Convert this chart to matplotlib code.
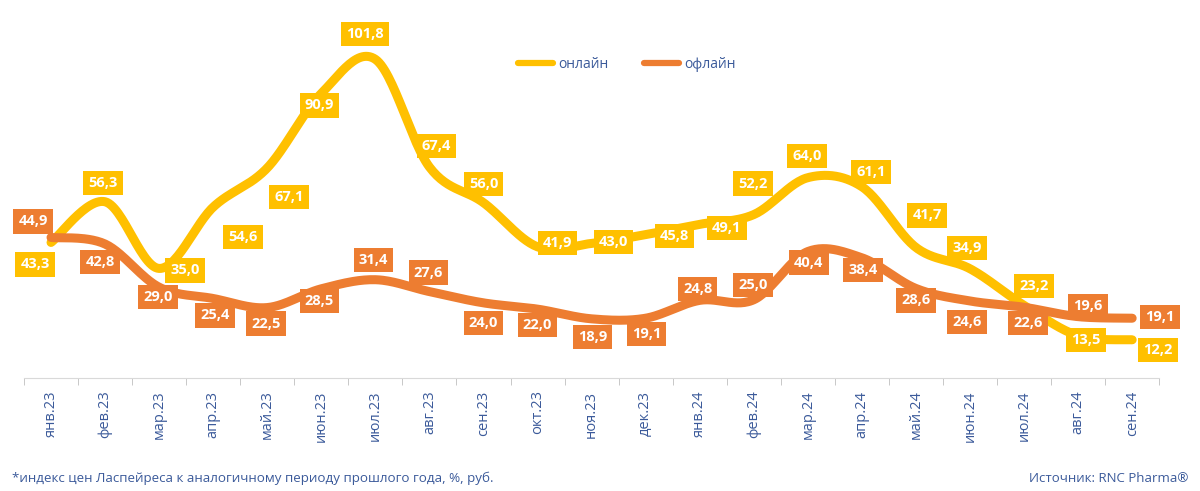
import numpy as np
import matplotlib
matplotlib.use("Agg")
import matplotlib.pyplot as plt
from matplotlib.lines import Line2D

plt.rcParams['font.family'] = ['Open Sans', 'DejaVu Sans']

months = ['янв.23', 'фев.23', 'мар.23', 'апр.23', 'май.23', 'июн.23', 'июл.23',
          'авг.23', 'сен.23', 'окт.23', 'ноя.23', 'дек.23', 'янв.24', 'фев.24',
          'мар.24', 'апр.24', 'май.24', 'июн.24', 'июл.24', 'авг.24', 'сен.24']
online = [43.3, 56.3, 35.0, 54.6, 67.1, 90.9, 101.8, 67.4, 56.0, 41.9, 43.0,
          45.8, 49.1, 52.2, 64.0, 61.1, 41.7, 34.9, 23.2, 13.5, 12.2]
offline = [44.9, 42.8, 29.0, 25.4, 22.5, 28.5, 31.4, 27.6, 24.0, 22.0, 18.9,
           19.1, 24.8, 25.0, 40.4, 38.4, 28.6, 24.6, 22.6, 19.6, 19.1]

# label offsets in pixels (dx, dy), picked by eye
online_off = [(-16, -22), (-2, 19), (26, -2), (30, -30), (22, -29), (-2, -12),
              (-10, 25), (7, 21), (0, 19), (20, 4), (22, 1), (29, -1), (27, -4),
              (-1, 31), (-1, 22), (9, 15), (11, 32), (-3, 21), (10, 19), (8, -4),
              (26, -10)]
offline_off = [(-18, 16), (-5, -18), (-1, -10), (2, -17), (-1, -16), (-2, -12),
               (-2, 20), (-1, 19), (0, -20), (0, -16), (1, -18), (1, -16), (-2, 11),
               (-1, 15), (1, -11), (1, -12), (0, -12), (-3, -21), (4, -16), (10, 11),
               (28, 1)]

YELLOW = '#FFC000'
ORANGE = '#ED7D31'
TXT = '#3B5A9A'


def smooth(x, y, n=30):
    # bezier smoothing, similar to Excel's smoothed line
    pts = np.column_stack([x, y]).astype(float)
    pad = np.vstack([pts[0], pts, pts[-1]])
    t = np.linspace(0, 1, n)[:, None]
    out = []
    for i in range(len(pts) - 1):
        p0, p1, p2, p3 = pad[i], pad[i + 1], pad[i + 2], pad[i + 3]
        c1 = p1 + (p2 - p0) / 6
        c2 = p2 - (p3 - p1) / 6
        seg = (1 - t)**3 * p1 + 3 * (1 - t)**2 * t * c1 + 3 * (1 - t) * t**2 * c2 + t**3 * p2
        out.append(seg if i == 0 else seg[1:])
    return np.vstack(out)


fig = plt.figure(figsize=(12, 4.91), dpi=100)
ax = fig.add_axes([0.02, 1 - 378 / 491, 0.946, 360 / 491])

x = np.arange(len(months))
for vals, col, offs, z in [(online, YELLOW, online_off, 2),
                           (offline, ORANGE, offline_off, 3)]:
    s = smooth(x, vals)
    ax.plot(s[:, 0], s[:, 1], color=col, lw=6.5, solid_capstyle='round', zorder=z)
    for xi, v, (dx, dy) in zip(x, vals, offs):
        ax.annotate(f"{v:.1f}".replace('.', ','), (xi, v), xytext=(dx, dy),
                    textcoords='offset pixels', ha='center', va='center',
                    color='white', fontsize=10.5, fontweight='bold', zorder=5,
                    bbox=dict(boxstyle='square,pad=0.35', fc=col, ec='none'))

ax.set_xlim(-0.5, len(months) - 0.5)
ax.set_ylim(0, 115)
ax.set_xticks(x)
ax.set_xticklabels(months, rotation=90, color=TXT, fontsize=10.5)
ax.set_xticks(np.arange(-0.5, len(months)), minor=True)
ax.tick_params(axis='x', which='major', length=0, pad=9)
ax.tick_params(axis='x', which='minor', length=5, color='#BFBFBF')
ax.set_yticks([])
for sp in ['top', 'right', 'left']:
    ax.spines[sp].set_visible(False)
ax.spines['bottom'].set_color('#D9D9D9')

handles = [Line2D([], [], color=YELLOW, lw=4.5, solid_capstyle='round'),
           Line2D([], [], color=ORANGE, lw=4.5, solid_capstyle='round')]
fig.legend(handles, ['онлайн', 'офлайн'], loc='center',
           bbox_to_anchor=(627 / 1200, 1 - 64 / 491), ncol=2,
           frameon=False, handlelength=2.5, handletextpad=0.35, columnspacing=2.6,
           fontsize=10, labelcolor=TXT)

fig.text(12 / 1200, 1 - 478 / 491, '*индекс цен Ласпейреса к аналогичному периоду прошлого года, %, руб.',
         color=TXT, fontsize=9.6, va='center')
fig.text(1188 / 1200, 1 - 478 / 491, 'Источник: RNC Pharma®', color=TXT, fontsize=9.5,
         va='center', ha='right')

fig.savefig('out.png', dpi=100)
